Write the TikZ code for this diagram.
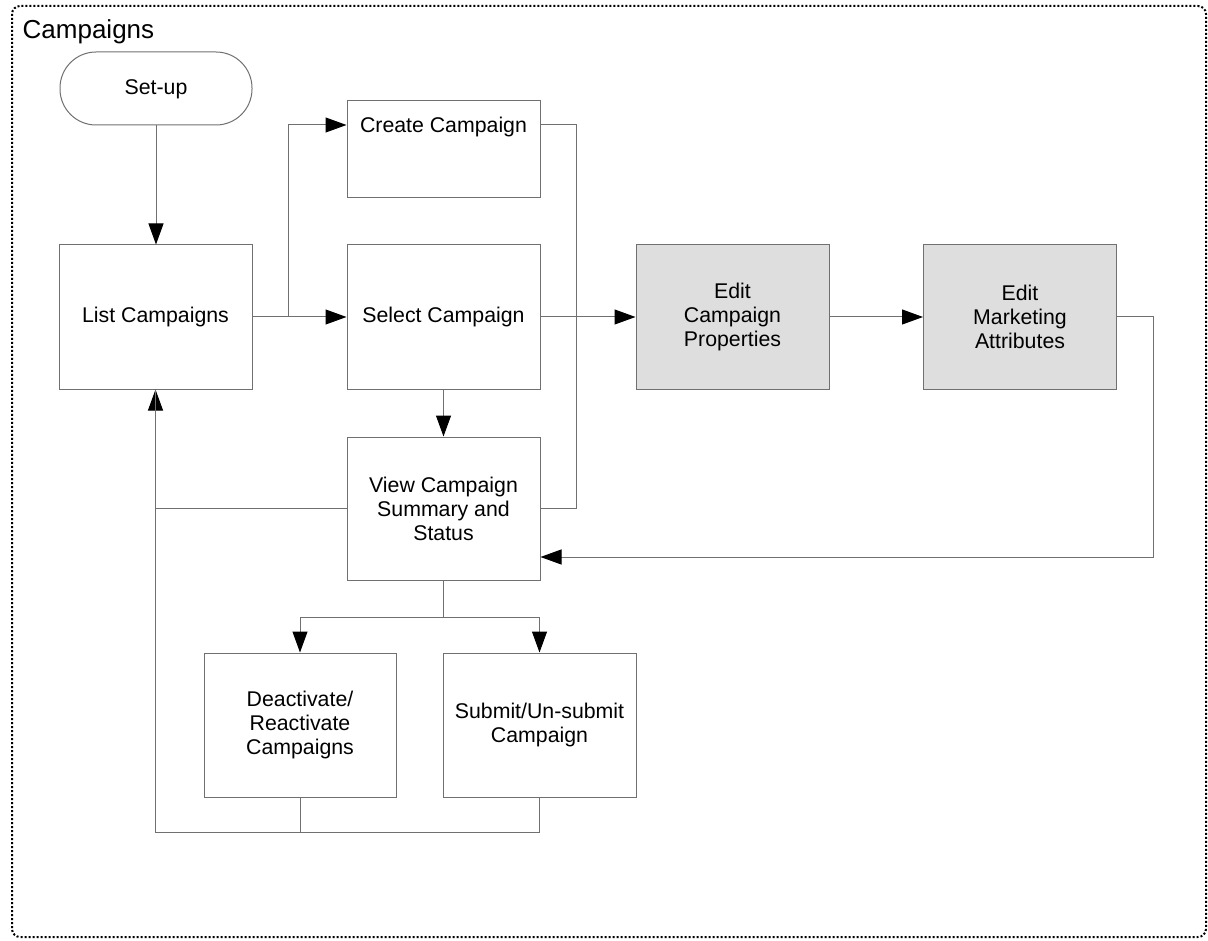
\documentclass[tikz,border=0pt]{standalone}
\usepackage{fontspec}
\setmainfont{Liberation Sans}
\usetikzlibrary{arrows.meta,calc}
\definecolor{linegray}{HTML}{707070}
\definecolor{boxfill}{HTML}{DEDEDE}
\tikzset{
  box/.style={draw=linegray, line width=1pt, rectangle, inner sep=2pt, align=center,
    minimum width=193pt, minimum height=144pt, font=\fontsize{21.3}{24}\selectfont},
  graybox/.style={box, fill=boxfill},
  conn/.style={draw=linegray, line width=1pt},
  arr/.style={conn, -{Triangle[length=21pt,width=15pt,color=black]}},
}
\begin{document}
\begin{tikzpicture}[x=1pt,y=-1pt]
\useasboundingbox (0,0) rectangle (1208,941);
% frame
\draw[black, line width=2pt, dash pattern=on 2pt off 2pt, rounded corners=8pt]
  (12,6) rectangle (1206,937);
\node[anchor=base west, inner sep=0pt, font=\fontsize{26}{30}\selectfont] (title) at (22.5,38.6) {Campaigns};
% nodes
\node[box, minimum width=192pt, minimum height=73pt, rounded corners=36pt, text height=17pt, text depth=4pt] (setup) at (156,88.5) {Set-up};
\node[box, anchor=north, minimum height=97pt, text height=32.5pt, text depth=64.5pt, inner ysep=0pt] (create) at (443.5,100) {Create Campaign};
\node[box] (list) at (155.5,317) {List Campaigns};
\node[box] (select) at (443.5,317) {Select Campaign};
\node[graybox] (props) at (732.5,317) {Edit\\Campaign\\Properties};
\node[graybox] (mkt) at (1020,317) {Edit\\Marketing\\Attributes};
\node[box, minimum height=143pt] (view) at (443.5,508.5) {View Campaign\\Summary and\\Status};
\node[box, minimum width=192pt] (deact) at (300,725) {Deactivate/\\Reactivate\\Campaigns};
\node[box] (submit) at (539.5,725) {Submit/Un-submit\\Campaign};
% helper coordinates
\coordinate (cout) at ([yshift=-25pt]create.north east);
\coordinate (cin) at ([yshift=-25pt]create.north west);
\coordinate (fork) at ([xshift=36pt]list.east);
\coordinate (bus) at ([xshift=36pt]select.east);
\coordinate (loop) at ([xshift=36pt]mkt.east);
\coordinate (vin) at ([yshift=-48.5pt]view.east);
\coordinate (split) at ([yshift=-36.5pt]view.south);
\coordinate (bot) at ([yshift=-35pt]deact.south);
% connectors
\draw[arr] (setup.south) -- (setup.south |- list.north);
\draw[conn] (list.east) -- (fork);
\draw[arr] (fork) |- (cin);
\draw[arr] (fork) -- (select.west);
\draw[conn] (cout) -- (cout -| bus) |- (view.east);
\draw[arr] (bus) -- (props.west);
\draw[conn] (select.east) -- (bus);
\draw[arr] (props.east) -- (mkt.west);
\draw[arr] (mkt.east) -- (loop) |- (vin);
\draw[arr] (select.south) -- (view.north);
\draw[arr] (view.west) -| (list.south);
\draw[conn] (view.south) -- (split);
\draw[arr] (split) -| (deact.north);
\draw[arr] (split) -| (submit.north);
\draw[conn] (deact.south) -- (bot) -| (list.south);
\draw[conn] (submit.south) |- (bot);
\end{tikzpicture}
\end{document}
